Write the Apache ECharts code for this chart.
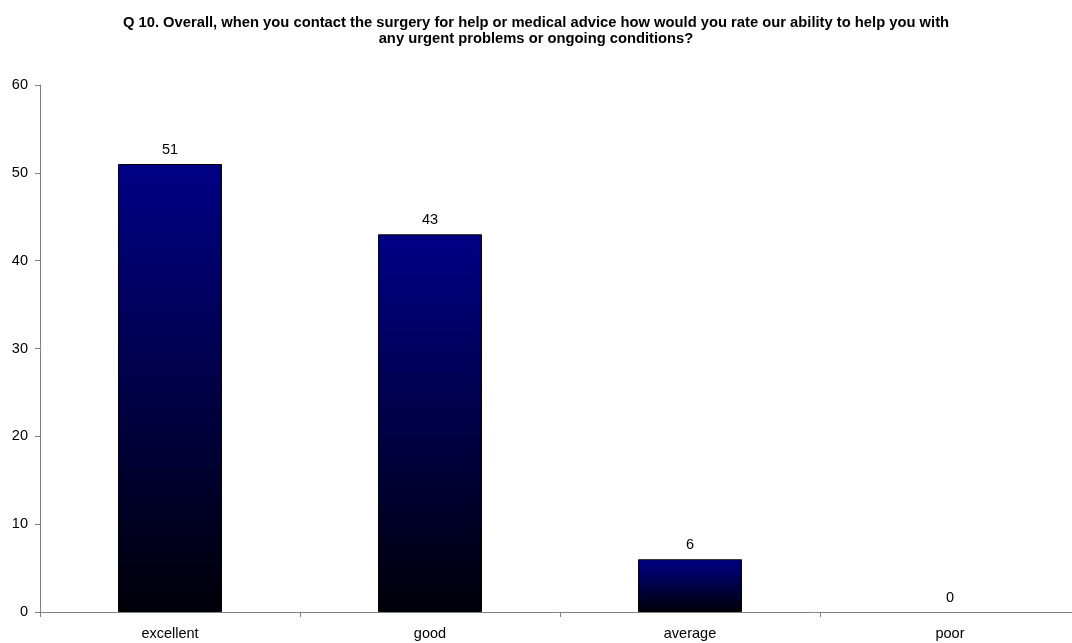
<!DOCTYPE html>
<html>
<head>
<meta charset="utf-8">
<script src="https://cdn.jsdelivr.net/npm/echarts@6/dist/echarts.min.js"></script>
<style>
  html, body { margin: 0; padding: 0; background: #fff; }
  #chart { width: 1072px; height: 643px; }
</style>
</head>
<body>
<div id="chart"></div>
<script>
// Survey answers and response counts
const categories = ['excellent', 'good', 'average', 'poor'];
const responses = [51, 43, 6, 0];
const yTicks = { min: 0, max: 60, interval: 10 };

const chart = echarts.init(document.getElementById('chart'), null, { renderer: 'canvas' });

// Navy-to-black vertical fill for each bar
const barFill = new echarts.graphic.LinearGradient(0, 0, 0, 1, [
  { offset: 0, color: '#000085' },
  { offset: 1, color: '#000008' }
]);

// Zero-height bars get no outline
const barData = responses.map(v => ({
  value: v,
  itemStyle: { borderWidth: v === 0 ? 0 : 1 }
}));

chart.setOption({
  animation: false,
  backgroundColor: '#ffffff',
  textStyle: { fontFamily: 'Liberation Sans, Arial, sans-serif' },
  title: {
    text: 'Q 10. Overall, when you contact the surgery for help or medical advice how would you rate our ability to help you with\nany urgent problems or ongoing conditions?',
    left: 'center',
    top: 10,
    textStyle: {
      fontFamily: 'Liberation Sans, Arial, sans-serif',
      fontSize: 14.75,
      fontWeight: 'bold',
      color: '#000',
      lineHeight: 16,
      align: 'center'
    }
  },
  // plot area runs slightly past the right edge of the canvas
  grid: { left: 40, width: 1040, top: 85, bottom: 31, containLabel: false, outerBoundsMode: 'none' },
  xAxis: {
    type: 'category',
    data: categories,
    boundaryGap: true,
    axisLine: { lineStyle: { color: '#808080', width: 1 } },
    axisTick: { show: true, length: 5, lineStyle: { color: '#808080' } },
    axisLabel: { color: '#000', fontSize: 14.5, margin: 14 },
    splitLine: { show: false }
  },
  yAxis: {
    type: 'value',
    min: yTicks.min,
    max: yTicks.max,
    interval: yTicks.interval,
    axisLine: { show: true, lineStyle: { color: '#808080', width: 1 } },
    axisTick: { show: true, length: 5, lineStyle: { color: '#808080' } },
    axisLabel: { color: '#000', fontSize: 14.5, margin: 12 },
    splitLine: { show: false }
  },
  series: [{
    type: 'bar',
    data: barData,
    barWidth: '40%',
    itemStyle: { color: barFill, borderColor: '#000', borderWidth: 1 },
    label: {
      show: true,
      position: 'top',
      distance: 7,
      color: '#000',
      fontSize: 14.5
    }
  }]
});
</script>
</body>
</html>
